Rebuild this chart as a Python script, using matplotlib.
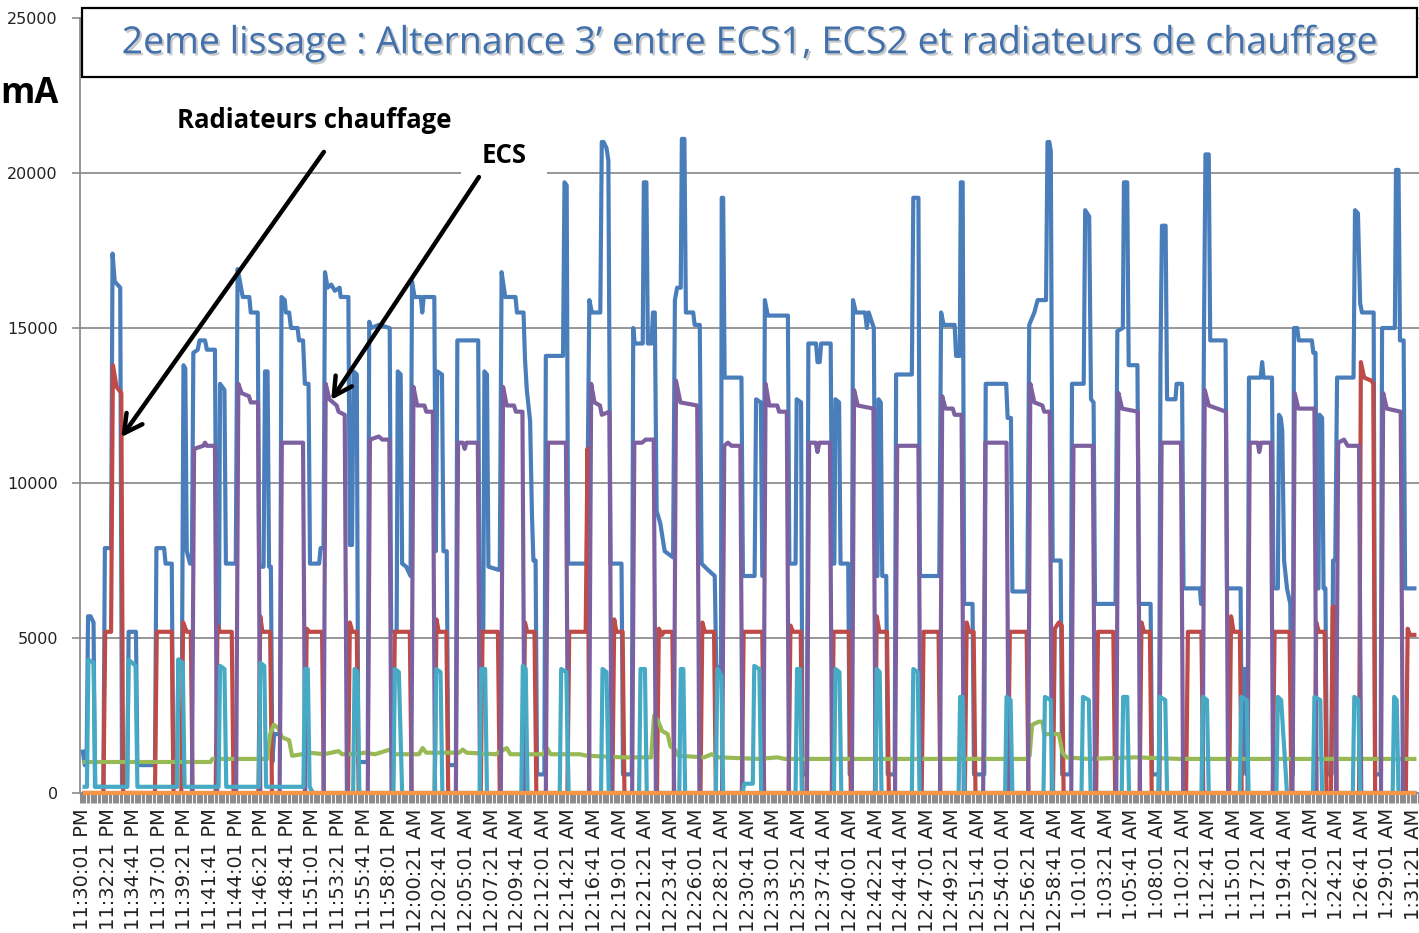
import matplotlib
matplotlib.use("Agg")
import matplotlib.pyplot as plt
import matplotlib.patheffects as pe
from matplotlib.patches import Rectangle
import numpy as np

# ---------------- data (x = sample index, 20 s per sample from 11:30:01 PM; y = mA) ----------------
TICK_LABELS = [
    "11:30:01 PM", "11:32:21 PM", "11:34:41 PM", "11:37:01 PM", "11:39:21 PM", "11:41:41 PM",
    "11:44:01 PM", "11:46:21 PM", "11:48:41 PM", "11:51:01 PM", "11:53:21 PM", "11:55:41 PM",
    "11:58:01 PM", "12:00:21 AM", "12:02:41 AM", "12:05:01 AM", "12:07:21 AM", "12:09:41 AM",
    "12:12:01 AM", "12:14:21 AM", "12:16:41 AM", "12:19:01 AM", "12:21:21 AM", "12:23:41 AM",
    "12:26:01 AM", "12:28:21 AM", "12:30:41 AM", "12:33:01 AM", "12:35:21 AM", "12:37:41 AM",
    "12:40:01 AM", "12:42:21 AM", "12:44:41 AM", "12:47:01 AM", "12:49:21 AM", "12:51:41 AM",
    "12:54:01 AM", "12:56:21 AM", "12:58:41 AM", "1:01:01 AM", "1:03:21 AM", "1:05:41 AM",
    "1:08:01 AM", "1:10:21 AM", "1:12:41 AM", "1:15:01 AM", "1:17:21 AM", "1:19:41 AM",
    "1:22:01 AM", "1:24:21 AM", "1:26:41 AM", "1:29:01 AM", "1:31:21 AM",
]
N_SAMPLES = 366
TICK_EVERY = 7

BLUE = [
    (0, 1400), (0.6, 900), (1.1, 900), (1.5, 5700), (2.2, 5700), (3.0, 5500), (3.4, 200), (5.7, 200),
    (6.1, 7900), (7.8, 7900), (8.2, 17400), (8.8, 16500), (10.3, 16300), (10.8, 200),
    (12.2, 200), (12.6, 5200), (14.6, 5200), (15.0, 900), (19.8, 900), (20.2, 7900), (22.3, 7900),
    (22.7, 7400), (24.4, 7400), (24.8, 200), (25.8, 200), (26.2, 4300), (27.2, 4300), (27.6, 13800),
    (28.1, 13700), (28.5, 7800), (29.4, 7400), (29.9, 7400), (30.3, 14200), (31.5, 14300),
    (32.0, 14600), (33.5, 14600), (34.0, 14300), (36.2, 14300), (36.7, 5300), (37.3, 5300),
    (37.6, 13200), (38.8, 13000), (39.2, 7400), (41.9, 7400), (42.4, 16900), (43.2, 16400),
    (43.8, 16000), (45.6, 16000), (46.0, 15500), (47.9, 15500), (48.3, 7300), (49.5, 7300),
    (49.9, 13600), (50.6, 13600), (51.0, 7300), (51.5, 7300), (51.9, 1000), (52.4, 1900),
    (53.6, 1900), (54.0, 1900), (54.4, 16000), (55.3, 15900), (55.6, 15500), (56.5, 15500),
    (57.0, 15000), (58.8, 15000), (59.2, 14600), (60.3, 14600), (60.8, 13200), (61.8, 13200),
    (62.2, 7400), (64.7, 7400), (65.1, 7900), (65.9, 7900), (66.3, 16800), (67.0, 16300),
    (68.0, 16400), (69.0, 16200), (70.3, 16300), (70.6, 16000), (72.7, 16000), (73.1, 8000),
    (73.7, 8000), (74.1, 13600), (75.0, 13500), (75.4, 1000), (78.0, 1000), (78.4, 15200),
    (79.0, 15000), (81.0, 15100), (84.0, 15000), (84.4, 5200), (85.9, 5200), (86.2, 13600),
    (87.0, 13500), (87.4, 7400), (88.5, 7300), (89.7, 7000), (90.1, 16500), (90.8, 16000),
    (92.5, 16000), (92.9, 15500), (93.3, 16000), (96.2, 16000), (96.6, 7800), (97.0, 13600),
    (98.3, 13500), (98.7, 7800), (99.6, 7800), (100.0, 900), (102.1, 900), (102.5, 14600),
    (108.2, 14600), (108.6, 5200), (109.6, 5300), (109.9, 13600), (110.6, 13500), (111.0, 7300),
    (113.7, 7200), (114.1, 7200), (114.6, 16800), (115.6, 16000), (118.4, 16000), (118.8, 15500),
    (120.6, 15500), (121.0, 14000), (121.5, 13000), (122.4, 12000), (122.9, 9000), (123.3, 7500),
    (123.9, 7500), (124.3, 600), (126.3, 600), (126.7, 14100), (131.4, 14100), (131.8, 19700),
    (132.4, 19600), (132.8, 7400), (137.9, 7400), (138.6, 15900), (139.3, 15500), (141.6, 15500),
    (142.0, 21000), (142.5, 21000), (143.3, 20800), (143.8, 20400), (144.4, 7400), (147.4, 7400),
    (147.8, 600), (150.2, 600), (150.6, 15000), (151.0, 14500), (153.2, 14500), (153.5, 19700),
    (154.2, 19700), (154.6, 14500), (155.6, 14500), (156.0, 15500), (156.5, 15500), (157.0, 9100),
    (158.0, 8700), (159.2, 7800), (161.5, 7600), (162.0, 15900), (162.6, 16300), (163.6, 16300),
    (163.9, 21100), (164.6, 21100), (165.0, 15500), (167.0, 15500), (167.4, 15100), (168.8, 15100),
    (169.3, 7400), (171.0, 7200), (172.9, 7000), (173.3, 4100), (174.6, 4000), (174.8, 19200),
    (175.2, 19200), (175.6, 13400), (180.2, 13400), (180.6, 7000), (183.8, 7000), (184.2, 12700),
    (185.5, 12600), (185.9, 7000), (186.3, 7000), (186.6, 15900), (187.4, 15400), (192.9, 15400),
    (193.3, 7400), (195.0, 7400), (195.3, 12700), (196.5, 12600), (196.9, 600), (198.1, 600),
    (198.5, 14500), (200.6, 14500), (201.0, 13900), (201.6, 13900), (202.0, 14500), (204.6, 14500),
    (205.0, 7400), (205.6, 7400), (205.9, 12700), (206.9, 12600), (207.3, 7400), (209.4, 7400),
    (209.8, 600), (210.3, 600), (210.7, 15900), (211.5, 15500), (214.0, 15500), (214.5, 15000),
    (215.0, 15500), (216.4, 15000), (216.8, 7000), (217.4, 7000), (217.7, 12700), (218.3, 12600),
    (218.7, 7000), (219.8, 7000), (220.2, 600), (222.1, 600), (222.5, 13500), (226.8, 13500),
    (227.2, 19200), (228.6, 19200), (229.0, 7000), (234.3, 7000), (234.8, 15500), (235.5, 15100),
    (238.5, 15100), (238.9, 14100), (239.9, 14100), (240.2, 19700), (240.7, 19700), (241.1, 6100),
    (243.4, 6100), (243.8, 600), (246.6, 600), (247.0, 13200), (252.6, 13200), (253.0, 12100),
    (253.9, 12100), (254.3, 6500), (258.4, 6500), (258.9, 15100), (260.3, 15500), (261.2, 15900),
    (263.5, 15900), (263.9, 21000), (264.4, 21000), (264.8, 20700), (265.3, 7500), (267.5, 7500),
    (267.9, 600), (270.2, 600), (270.6, 13200), (273.8, 13200), (274.2, 18800), (275.3, 18600),
    (275.8, 12700), (276.5, 12600), (276.9, 6100), (282.5, 6100), (283.0, 14900), (284.5, 15000),
    (284.8, 19700), (285.7, 19700), (286.1, 13800), (288.5, 13800), (288.9, 6100), (292.1, 6100),
    (292.5, 600), (294.4, 600), (294.8, 14000), (295.2, 18300), (296.2, 18300), (296.6, 12700),
    (298.9, 12700), (299.2, 13200), (300.7, 13200), (301.1, 6600), (305.6, 6600), (305.9, 6100),
    (306.3, 6100), (306.7, 15000), (307.1, 20600), (308.0, 20600), (308.4, 14600), (312.6, 14600),
    (313.0, 6600), (316.7, 6600), (317.1, 600), (317.4, 4000), (317.9, 4000), (318.3, 600),
    (318.6, 600), (319.0, 13400), (322.2, 13400), (322.6, 13900), (323.0, 13400), (325.3, 13400),
    (325.7, 6600), (326.9, 6600), (327.2, 12200), (327.7, 12100), (328.1, 11700), (328.6, 7500),
    (329.4, 6600), (330.3, 6100), (330.7, 600), (331.0, 600), (331.3, 15000), (332.2, 15000),
    (332.6, 14600), (336.2, 14600), (336.6, 14200), (337.2, 14200), (337.6, 6600), (338.0, 6600),
    (338.3, 12200), (339.0, 12100), (339.4, 6600), (339.9, 6600), (340.3, 600), (341.6, 600),
    (342.0, 7500), (342.6, 7500), (343.1, 13400), (347.6, 13400), (348.0, 18800), (348.8, 18700),
    (349.4, 15800), (349.9, 15500), (353.1, 15500), (353.5, 600), (355.0, 600), (355.4, 15000),
    (358.9, 15000), (359.2, 20100), (359.9, 20100), (360.3, 14600), (361.3, 14600), (361.7, 6600),
    (364.8, 6600),
]

RED = [
    (0, 0), (5.7, 0), (6.2, 5200), (7.8, 5200), (8.3, 13800), (9.3, 13100), (10.6, 12900), (11.1, 0),
    (19.8, 0), (20.3, 5200), (24.4, 5200), (24.9, 0),
    (27.0, 0), (27.5, 5500), (28.5, 5200), (29.6, 5200), (30.1, 0),
    (36.4, 0), (36.9, 5400), (37.5, 5200), (40.8, 5200), (41.3, 0),
    (48.1, 0), (48.6, 5700), (49.2, 5200), (51.3, 5200), (51.8, 0),
    (60.8, 0), (61.3, 5300), (62.0, 5200), (65.5, 5200), (66.0, 0),
    (72.6, 0), (73.1, 5500), (73.8, 5200), (75.0, 5200), (75.5, 0),
    (84.9, 0), (85.4, 5200), (89.5, 5200), (90.0, 0),
    (96.3, 0), (96.8, 5600), (97.4, 5200), (99.5, 5200), (100.0, 0),
    (108.9, 0), (109.4, 5200), (113.6, 5200), (114.1, 0),
    (120.5, 0), (121.0, 5500), (121.6, 5200), (123.6, 5200), (124.1, 0),
    (132.6, 0), (133.1, 5200), (137.6, 5200), (138.1, 11100), (138.6, 0),
    (144.9, 0), (145.4, 5600), (146.0, 5200), (147.7, 5200), (148.2, 0),
    (157.1, 0), (157.6, 5300), (158.5, 5100), (159.0, 5200), (161.3, 5200), (161.8, 0),
    (169.0, 0), (169.5, 5500), (170.2, 5200), (172.7, 5200), (173.2, 0),
    (180.3, 0), (180.8, 5200), (185.9, 5200), (186.4, 0),
    (193.1, 0), (193.6, 5400), (194.3, 5200), (196.4, 5200), (196.9, 0),
    (204.9, 0), (205.4, 5200), (209.6, 5200), (210.1, 0),
    (216.7, 0), (217.2, 5700), (217.9, 5200), (220.0, 5200), (220.5, 0),
    (229.5, 0), (230.0, 5200), (234.1, 5200), (234.6, 0),
    (241.3, 0), (241.8, 5500), (242.5, 5200), (243.7, 5200), (244.2, 0),
    (253.1, 0), (253.6, 5200), (258.2, 5200), (258.7, 0),
    (265.4, 0), (265.9, 5300), (267.0, 5500), (267.8, 5400), (268.3, 0),
    (277.2, 0), (277.7, 5200), (281.9, 5200), (282.4, 0),
    (289.1, 0), (289.6, 5500), (290.3, 5200), (291.9, 5200), (292.4, 0),
    (301.8, 0), (302.3, 5200), (306.0, 5200), (306.5, 0),
    (313.6, 0), (314.1, 5700), (314.8, 5200), (316.5, 5200), (317.0, 0),
    (325.5, 0), (326.0, 5200), (330.1, 5200), (330.6, 0),
    (336.9, 0), (337.4, 5500), (338.1, 5200), (339.7, 5200), (340.2, 0),
    (341.4, 0), (341.9, 6000), (342.5, 6000), (343.0, 0),
    (349.1, 0), (349.6, 13900), (350.5, 13400), (352.5, 13300), (353.0, 13200), (353.5, 0),
    (361.9, 0), (362.4, 5300), (363.0, 5100), (364.8, 5100),
]

GREEN = [
    (0, 1000), (35.0, 1000), (35.5, 1100), (50.5, 1100), (51.3, 1900), (52.3, 2200), (53.5, 2100),
    (54.5, 1800), (56.5, 1700), (57.3, 1200), (60.0, 1250), (62.0, 1300), (66.0, 1250), (70.0, 1350),
    (71.0, 1250), (75.0, 1250), (77.0, 1300), (80.0, 1250), (84.0, 1400), (85.0, 1250), (92.0, 1250),
    (93.0, 1450), (94.0, 1300), (103.0, 1300), (104.0, 1400), (105.0, 1300), (113.0, 1250),
    (116.0, 1450), (117.0, 1250), (126.0, 1250), (127.0, 1450), (128.0, 1250), (136.0, 1250),
    (138.0, 1200), (148.0, 1150), (155.5, 1150), (156.3, 2500), (157.5, 2300), (158.5, 2000),
    (160.0, 1900), (160.8, 1500), (162.0, 1400), (163.0, 1200), (170.0, 1150), (172.0, 1250),
    (174.0, 1150), (185.0, 1100), (190.0, 1150), (192.0, 1100), (258.0, 1100), (259.0, 1200),
    (259.7, 2200), (261.5, 2300), (262.5, 2300), (263.0, 1900), (267.0, 1900), (268.0, 1300),
    (269.0, 1150), (275.0, 1100), (288.0, 1150), (300.0, 1100), (364.8, 1100),
]

PURPLE = [
    (0, 0), (29.9, 0), (30.5, 11100), (33.0, 11200), (33.5, 11300), (34.0, 11200), (36.2, 11200), (36.8, 0),
    (42.0, 0), (42.6, 13200), (43.5, 12900), (45.5, 12800), (46.0, 12600), (48.0, 12600), (48.6, 0),
    (53.9, 0), (54.5, 11300), (60.3, 11300), (60.9, 0),
    (65.9, 0), (66.5, 13200), (67.5, 12700), (69.5, 12500), (70.0, 12300), (71.7, 12200), (72.3, 0),
    (78.0, 0), (78.6, 11400), (81.0, 11500), (82.0, 11400), (83.9, 11400), (84.5, 0),
    (89.9, 0), (90.5, 13100), (91.5, 12500), (93.5, 12500), (94.0, 12300), (95.8, 12300), (96.4, 0),
    (102.1, 0), (102.7, 11300), (104.0, 11300), (104.5, 11100), (105.0, 11300), (108.1, 11300), (108.7, 0),
    (114.4, 0), (115.0, 13100), (116.0, 12500), (118.0, 12500), (118.5, 12300), (120.3, 12300), (120.9, 0),
    (126.7, 0), (127.3, 11300), (132.2, 11300), (132.8, 0),
    (138.5, 0), (139.1, 13200), (140.0, 12600), (141.5, 12500), (142.0, 12200), (144.1, 12300), (144.7, 0),
    (150.3, 0), (150.9, 11300), (153.0, 11300), (154.0, 11400), (156.2, 11400), (156.8, 0),
    (161.7, 0), (162.3, 13300), (163.5, 12600), (168.1, 12500), (168.7, 0),
    (174.9, 0), (175.5, 11200), (176.5, 11300), (177.5, 11200), (179.9, 11200), (180.5, 0),
    (186.2, 0), (186.8, 13200), (187.8, 12500), (190.0, 12500), (190.5, 12300), (192.6, 12300), (193.2, 0),
    (198.1, 0), (198.7, 11300), (200.5, 11300), (201.0, 11000), (201.5, 11300), (204.4, 11300), (205.0, 0),
    (210.4, 0), (211.0, 13000), (212.0, 12500), (216.3, 12400), (216.9, 0),
    (222.2, 0), (222.8, 11200), (228.6, 11200), (229.2, 0),
    (234.5, 0), (235.1, 12800), (236.0, 12400), (238.0, 12400), (238.5, 12200), (240.4, 12200), (241.0, 0),
    (246.3, 0), (246.9, 11300), (252.7, 11300), (253.3, 0),
    (258.6, 0), (259.2, 13200), (260.3, 12600), (262.5, 12500), (263.0, 12300), (264.5, 12300), (265.1, 0),
    (270.4, 0), (271.0, 11200), (276.3, 11200), (276.9, 0),
    (282.7, 0), (283.3, 12900), (284.3, 12400), (288.6, 12300), (289.2, 0),
    (294.5, 0), (295.1, 11300), (300.4, 11300), (301.0, 0),
    (306.3, 0), (306.9, 13000), (308.0, 12500), (312.7, 12300), (313.3, 0),
    (318.6, 0), (319.2, 11300), (321.4, 11300), (321.8, 11000), (322.3, 11300), (325.0, 11300), (325.6, 0),
    (330.9, 0), (331.5, 12900), (332.5, 12400), (336.9, 12400), (337.5, 0),
    (342.8, 0), (343.4, 11300), (345.0, 11400), (346.0, 11200), (349.1, 11200), (349.7, 0),
    (355.1, 0), (355.7, 12900), (356.7, 12400), (360.5, 12300), (361.1, 0), (364.8, 0),
]

CYAN = [
    (0, 200), (1.2, 200), (1.6, 4300), (3.0, 4200), (3.5, 200),
    (12.2, 200), (12.6, 4300), (14.5, 4100), (15.0, 200),
    (25.8, 200), (26.2, 4300), (27.4, 4200), (27.9, 200),
    (37.2, 200), (37.6, 4100), (38.8, 4000), (39.3, 200),
    (48.2, 200), (48.6, 4200), (49.7, 4100), (50.2, 200),
    (60.4, 200), (60.8, 4000), (61.6, 4000), (62.1, 200), (63.0, 0),
    (74.0, 0), (74.4, 4000), (75.2, 3900), (75.7, 0),
    (85.0, 0), (85.4, 4000), (86.5, 3900), (87.4, 0),
    (96.3, 0), (96.7, 4000), (97.9, 3900), (98.4, 0),
    (108.6, 0), (109.0, 4000), (110.1, 4000), (110.6, 0),
    (120.0, 0), (120.4, 4100), (121.2, 4000), (121.7, 0),
    (130.5, 0), (130.9, 4000), (132.3, 3900), (132.9, 0),
    (141.8, 0), (142.2, 4000), (143.3, 3900), (143.9, 0),
    (152.2, 0), (152.6, 4000), (153.8, 4000), (154.3, 0),
    (163.2, 0), (163.6, 4000), (164.3, 4000), (164.8, 0),
    (173.2, 0), (173.6, 4000), (174.7, 3800), (175.2, 0),
    (180.5, 0), (181.0, 300), (183.3, 300), (183.7, 4100), (185.1, 4000), (185.6, 0),
    (195.0, 0), (195.4, 4000), (196.2, 4000), (196.7, 0),
    (205.5, 0), (205.9, 4000), (207.0, 3900), (207.5, 0),
    (216.8, 0), (217.2, 4000), (218.0, 3900), (218.5, 0),
    (226.8, 0), (227.2, 4000), (228.4, 3900), (228.9, 0),
    (239.6, 0), (240.0, 3100), (240.7, 3100), (241.2, 0),
    (252.3, 0), (252.7, 3100), (253.8, 3000), (254.3, 0),
    (262.8, 0), (263.2, 3100), (264.8, 3000), (265.3, 0),
    (273.2, 0), (273.6, 3100), (275.2, 3000), (275.7, 0),
    (284.2, 0), (284.6, 3100), (285.7, 3100), (286.2, 0),
    (294.2, 0), (294.6, 3100), (296.1, 3000), (296.6, 0),
    (306.0, 0), (306.4, 3100), (307.5, 3000), (308.0, 0),
    (316.5, 0), (316.9, 3100), (318.4, 3000), (318.9, 0),
    (326.5, 0), (326.9, 3100), (327.8, 3000), (329.4, 0),
    (336.5, 0), (336.9, 3100), (338.5, 3000), (339.0, 0),
    (347.4, 0), (347.8, 3100), (348.9, 3000), (349.4, 0),
    (358.3, 0), (358.7, 3100), (359.4, 3000), (359.9, 0), (364.8, 0),
]

ORANGE = [(0, 0), (364.8, 0)]

SERIES = [
    (BLUE, "#4A7EBB"),
    (RED, "#BE4B48"),
    (GREEN, "#98B954"),
    (PURPLE, "#7D60A0"),
    (CYAN, "#46AAC5"),
    (ORANGE, "#F79646"),
]

TITLE = "2eme lissage : Alternance 3\u2019 entre ECS1, ECS2 et radiateurs de chauffage"

# ---------------- figure ----------------
W, H = 1419, 933
fig = plt.figure(figsize=(W / 100, H / 100), dpi=100)
ax = fig.add_axes([80 / W, (H - 793) / H, 1 - 80 / W, (793 - 18) / H])

for z, (pts, col) in enumerate(SERIES):
    xs = [p[0] for p in pts]
    ys = [p[1] for p in pts]
    ax.plot(xs, ys, color=col, lw=3.0, zorder=3 + z, solid_joinstyle="round",
            solid_capstyle="butt", clip_on=(col != "#F79646"))

ax.set_xlim(-0.7, 364.6)
ax.set_ylim(0, 25000)
ax.set_yticks(range(0, 25001, 5000))
ax.set_yticklabels([str(v) for v in range(0, 25001, 5000)], fontsize=11.5, color="#222222")
ax.grid(axis="y", color="#8f8f8f", lw=1.3)
ax.set_axisbelow(True)

ax.set_xticks([i * TICK_EVERY for i in range(len(TICK_LABELS))])
ax.set_xticklabels(TICK_LABELS, rotation=90, fontsize=14, color="#222222", va="top", ha="center")
ax.set_xticks(np.arange(-0.5, N_SAMPLES, 1), minor=True)
ax.tick_params(axis="x", which="major", length=0, pad=11)
ax.tick_params(axis="x", which="minor", length=7, width=2.2, color="#8c8c8c")
ax.tick_params(axis="y", length=6, width=1.2, color="#8c8c8c", pad=10)

for s in ("top", "right"):
    ax.spines[s].set_visible(False)
ax.spines["left"].set_color("#8c8c8c")
ax.spines["left"].set_linewidth(1.3)
ax.spines["bottom"].set_color("#8c8c8c")

# title box
box = Rectangle((82 / W, (H - 77) / H), (1417 - 82) / W, 69 / H, transform=fig.transFigure,
                facecolor="white", edgecolor="black", lw=1.6, zorder=20)
fig.patches.append(box)
fig.text(750 / W, (H - 43) / H, TITLE, ha="center", va="center", fontsize=27, color="#4170AB",
         family="Open Sans", zorder=21,
         path_effects=[pe.withSimplePatchShadow(offset=(1.5, -1.5), shadow_rgbFace="#888888", alpha=0.45)])

# unit label
fig.text(0 / W, (H - 94) / H, "mA", ha="left", va="center", fontsize=25, fontweight="bold",
         family="Open Sans", color="black")

# annotations (data coordinates: sample index, mA)
ax.text(63.3, 21680, "Radiateurs chauffage", ha="center", va="center", fontsize=18.5,
        fontweight="bold", family="Open Sans", zorder=30, clip_on=False)
ax.text(115.2, 20550, "ECS", ha="center", va="center", fontsize=18.5, fontweight="bold",
        family="Open Sans", zorder=30,
        bbox=dict(boxstyle="square,pad=0.8", facecolor="white", edgecolor="none"))
arrow = dict(arrowstyle="->,head_length=1.3,head_width=0.7", lw=3.2, color="black",
             shrinkA=0, shrinkB=0)
ax.annotate("", xy=(10.6, 11480), xytext=(66.0, 20680), arrowprops=arrow, zorder=30)
ax.annotate("", xy=(68.0, 12680), xytext=(108.4, 19870), arrowprops=arrow, zorder=30)

fig.savefig("out.png", dpi=100)
